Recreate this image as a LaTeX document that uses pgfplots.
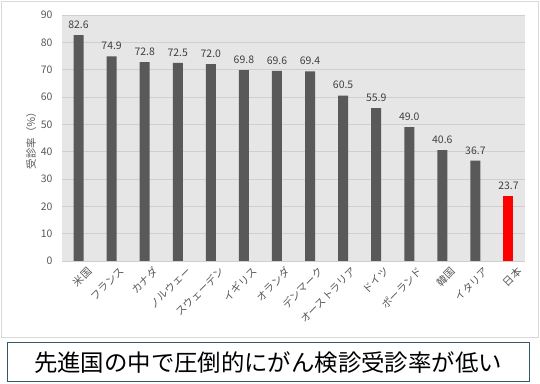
\documentclass[border=0pt]{standalone}
\usepackage{fontspec}
\setmainfont{Noto Sans CJK JP}
\usepackage{pgfplots}
\pgfplotsset{compat=1.18}
\definecolor{bargray}{HTML}{595959}
\definecolor{bggray}{HTML}{E7E6E6}
\definecolor{gridgray}{HTML}{D0CECE}
\definecolor{labgray}{HTML}{595959}
\definecolor{valgray}{HTML}{404040}
\definecolor{boxteal}{HTML}{31596A}
\definecolor{framegray}{HTML}{D9D9D9}
\begin{document}
\begin{tikzpicture}
\path[use as bounding box] (0bp,0bp) rectangle (540bp,384bp);
\fill[white] (0bp,0bp) rectangle (540bp,384bp);
\draw[framegray, line width=0.75bp] (1.5bp,47bp) rectangle (538bp,382.5bp);
\begin{axis}[
  at={(62bp,123bp)}, anchor=south west,
  scale only axis, width=463bp, height=246bp,
  ybar, bar width=10bp, bar shift=0pt,
  xmin=-0.5, xmax=13.5, ymin=0, ymax=90,
  ytick={0,10,...,90},
  xtick={0,...,13},
  xticklabels={米国,フランス,カナダ,ノルウェー,スウェーデン,イギリス,オランダ,デンマーク,オーストラリア,ドイツ,ポーランド,韓国,イタリア,日本},
  axis line style={draw=none},
  major tick length=0pt,
  tick style={draw=none},
  axis background/.style={fill=bggray},
  ymajorgrids, grid style={color=gridgray, line width=0.75bp},
  /pgf/number format/assume math mode=true,
  yticklabel style={font=\fontsize{10.5}{12}\selectfont, color=labgray, xshift=-6bp},
  xticklabel style={font=\fontsize{10.5}{12}\selectfont, color=labgray, rotate=45, anchor=north east, inner sep=1bp, yshift=-8bp, xshift=3bp},
  ylabel={受診率（％）},
  ylabel style={font=\fontsize{10.5}{12}\selectfont, color=labgray, yshift=-2bp},
  nodes near coords={\pgfmathprintnumber[fixed,fixed zerofill,precision=1,assume math mode=true]{\pgfplotspointmeta}},
  every node near coord/.append style={font=\fontsize{10.5}{12}\selectfont, color=valgray, yshift=3bp},
]
\addplot[fill=bargray, draw=none] coordinates {
(0,82.6) (1,74.9) (2,72.8) (3,72.5) (4,72.0) (5,69.8) (6,69.6) (7,69.4) (8,60.5) (9,55.9) (10,49.0) (11,40.6) (12,36.7)};
\addplot[fill=red, draw=none] coordinates {(13,23.7)};
\end{axis}
\draw[boxteal, line width=1bp] (7bp,2bp) rectangle (529bp,41bp);
\node[font=\fontsize{23.5}{28}\selectfont, inner sep=0pt] at (268bp,21.5bp) {先進国の中で圧倒的にがん検診受診率が低い};
\end{tikzpicture}
\end{document}
